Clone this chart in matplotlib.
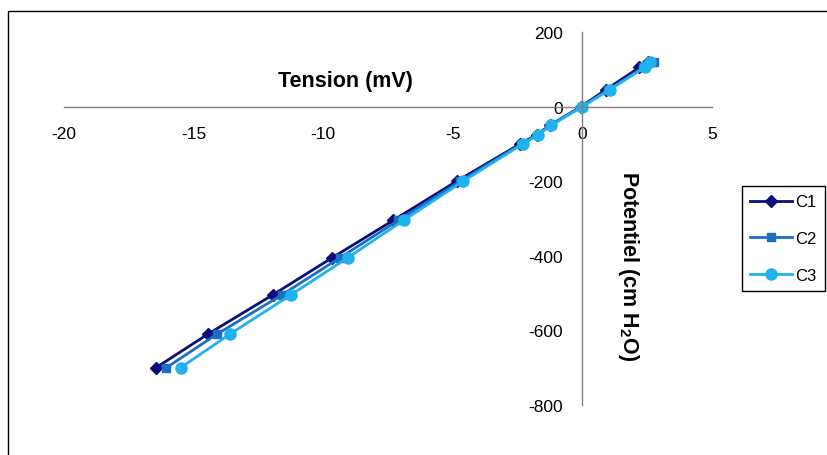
import matplotlib.pyplot as plt
from matplotlib.patches import Rectangle

plt.rcParams['font.family'] = ['Liberation Sans', 'DejaVu Sans']
plt.rcParams['axes.unicode_minus'] = False
plt.rcParams['mathtext.fontset'] = 'custom'
plt.rcParams['mathtext.bf'] = 'Liberation Sans:bold'
plt.rcParams['mathtext.rm'] = 'Liberation Sans:bold'
plt.rcParams['mathtext.default'] = 'bf'

# potentiel (cm H2O)
potentiel = [-700, -610, -505, -405, -305, -200, -100, -75, -50, 0, 45, 105, 120]

# tension (mV) per series
c1_tension = [-16.45, -14.45, -11.95, -9.65, -7.3, -4.85, -2.4, -1.75, -1.25, -0.05, 0.9, 2.2, 2.55]
c2_tension = [-16.05, -14.1, -11.6, -9.35, -7.1, -4.72, -2.35, -1.72, -1.22, -0.03, 1.0, 2.35, 2.75]
c3_tension = [-15.5, -13.6, -11.25, -9.05, -6.9, -4.6, -2.3, -1.7, -1.2, 0.0, 1.05, 2.4, 2.6]

series = [
    ('C1', c1_tension, '#0c0c7c', 'D', 6),
    ('C2', c2_tension, '#1a6fc2', 's', 6),
    ('C3', c3_tension, '#1fb2ee', 'o', 8),
]

fig = plt.figure(figsize=(8.27, 4.56), dpi=100)
ax = fig.add_axes([64 / 827, 1 - 406 / 456, 648 / 827, 373 / 456])

for name, xs, color, marker, ms in series:
    ax.plot(xs, potentiel, color=color, marker=marker, markersize=ms,
            linewidth=2, label=name)

ax.set_xlim(-20, 5)
ax.set_ylim(-800, 200)
ax.set_xticks([-20, -15, -10, -5, 0, 5])
ax.set_yticks([-800, -600, -400, -200, 0, 200])

ax.spines['left'].set_position(('data', 0))
ax.spines['bottom'].set_position(('data', 0))
ax.spines['right'].set_visible(False)
ax.spines['top'].set_visible(False)
for s in ('left', 'bottom'):
    ax.spines[s].set_color('#808080')
    ax.spines[s].set_linewidth(1)

ax.tick_params(axis='x', length=0, pad=14, labelsize=12.5)
ax.tick_params(axis='y', length=0, pad=14, labelsize=12.5)
ax.patch.set_alpha(0)

fig.text(345 / 827, 1 - 82 / 456, 'Tension (mV)', fontsize=15.5,
         fontweight='bold', ha='center', va='center')
fig.text(628 / 827, 1 - 266 / 456, r'Potentiel (cm H$_2$O)', fontsize=15.5,
         fontweight='bold', rotation=-90, ha='center', va='center')

leg = ax.legend(loc='upper left', bbox_to_anchor=(742 / 827, 1 - 187 / 456),
                bbox_transform=fig.transFigure, fontsize=12, fancybox=False,
                edgecolor='black', framealpha=1, borderpad=0.5,
                borderaxespad=0, labelspacing=1.3, handlelength=2.5,
                handletextpad=0.2)
leg.get_frame().set_linewidth(1)

fig.add_artist(Rectangle((8 / 827, -0.1), 1.2, 1 - 12 / 456 + 0.1,
                         transform=fig.transFigure, fill=False,
                         edgecolor='black', linewidth=1))

fig.savefig('out.png', dpi=100)
